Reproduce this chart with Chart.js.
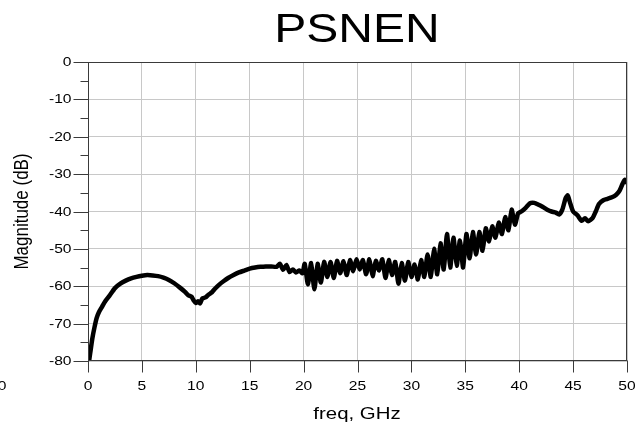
<!DOCTYPE html>
<html>
<head>
<meta charset="utf-8">
<script src="https://cdn.jsdelivr.net/npm/chart.js@4.4.1/dist/chart.umd.min.js"></script>
<style>
  html, body { margin: 0; padding: 0; background: #fff; }
  #wrap { width: 635px; height: 426px; position: relative; }
</style>
</head>
<body>
<div id="wrap"><canvas id="c"></canvas></div>
<script>
const chartTitle = 'PSNEN';
const xTitle = 'freq, GHz';
const yTitle = 'Magnitude (dB)';
const xTicks = [0, 5, 10, 15, 20, 25, 30, 35, 40, 45, 50];
const yTicks = [0, -10, -20, -30, -40, -50, -60, -70, -80];
const yMinorTicks = [-5, -15, -25, -35, -45, -55, -65, -75];

const freqGHz = [
  0.1, 0.2, 0.4, 0.6, 0.8, 1.0, 1.3, 1.6, 2.0, 2.5, 3.0, 3.5, 4.0, 4.5, 5.0, 5.5, 6.0, 6.5, 7.0, 7.5,
  8.0, 8.5, 9.0, 9.3, 9.6, 9.8, 10.0, 10.2, 10.4, 10.6, 10.9, 11.2, 11.5, 11.8, 12.2, 12.6, 13.0, 13.5, 14.0, 14.5,
  15.0, 15.5, 16.0, 16.5, 17.0, 17.5, 17.8, 18.1, 18.4, 18.7, 19.0, 19.3, 19.6, 19.9, 20.1, 20.4, 20.7, 21.0, 21.3, 21.6,
  21.9, 22.2, 22.5, 22.8, 23.1, 23.4, 23.7, 24.0, 24.3, 24.6, 24.9, 25.2, 25.5, 25.8, 26.1, 26.4, 26.7, 27.0, 27.3, 27.6,
  27.9, 28.2, 28.5, 28.8, 29.1, 29.4, 29.7, 30.0, 30.3, 30.6, 30.9, 31.2, 31.5, 31.8, 32.1, 32.4, 32.7, 33.0, 33.3, 33.6,
  33.9, 34.2, 34.5, 34.8, 35.1, 35.4, 35.7, 36.0, 36.3, 36.6, 36.9, 37.2, 37.5, 37.8, 38.1, 38.4, 38.7, 39.0, 39.3, 39.6,
  39.9, 40.2, 40.6, 41.0, 41.4, 41.8, 42.2, 42.6, 43.0, 43.4, 43.7, 44.0, 44.3, 44.5, 44.7, 45.0, 45.4, 45.8, 46.1, 46.4,
  46.8, 47.1, 47.4, 47.8, 48.2, 48.6, 49.0, 49.3, 49.6, 49.8, 50.0
];
const magDB = [
  -80.0, -78.0, -74.0, -71.0, -68.5, -67.0, -65.5, -64.0, -62.5, -60.5, -59.3, -58.5, -57.9, -57.5, -57.2, -57.0, -57.1, -57.3, -57.7, -58.3,
  -59.2, -60.3, -61.5, -62.4, -62.8, -63.8, -64.5, -64.0, -64.6, -63.3, -63.0, -62.2, -61.6, -60.6, -59.5, -58.6, -57.8, -57.0, -56.3, -55.8,
  -55.3, -55.0, -54.8, -54.7, -54.7, -54.8, -54.0, -55.6, -54.3, -56.2, -55.5, -56.3, -55.8, -56.5, -54.0, -59.5, -53.8, -60.8, -54.0, -59.0,
  -53.5, -57.5, -53.5, -57.8, -53.2, -56.5, -53.3, -57.0, -53.0, -56.0, -52.8, -55.5, -53.0, -56.8, -52.8, -57.3, -53.2, -55.8, -52.8, -57.8,
  -53.0, -57.0, -53.5, -59.3, -53.8, -58.5, -53.5, -57.5, -54.2, -58.2, -53.0, -57.5, -51.5, -57.5, -50.0, -56.8, -48.5, -55.5, -46.0, -55.0,
  -47.0, -54.5, -47.8, -55.0, -46.0, -52.5, -45.5, -51.5, -45.5, -50.5, -44.5, -48.0, -44.0, -47.0, -43.0, -46.0, -41.5, -45.0, -39.5, -43.5,
  -40.5, -40.0, -39.0, -37.8, -37.7, -38.2, -38.8, -39.5, -40.0, -40.3, -40.8, -39.5, -36.5, -35.7, -37.5, -40.0, -41.0, -42.5, -41.8, -42.6,
  -41.8, -40.0, -38.0, -37.0, -36.6, -36.2, -35.5, -34.5, -32.5, -31.5, -32.3
];

const SX = 1.2; // horizontal stretch of the reference's lettering
const FONT = '"Liberation Sans", Arial, Helvetica, sans-serif';

function drawText(ctx, str, x, y, size, align, baseline, rotate) {
  ctx.save();
  ctx.translate(x, y);
  ctx.scale(SX, 1);
  if (rotate) ctx.rotate(-Math.PI / 2);
  ctx.font = size + 'px ' + FONT;
  ctx.textAlign = align;
  ctx.textBaseline = baseline;
  ctx.fillStyle = '#000';
  ctx.fillText(str, 0, 0);
  ctx.restore();
}

const decor = {
  id: 'decor',
  afterDraw(chart) {
    const { ctx, chartArea: a, scales: { x, y } } = chart;
    ctx.save();
    const L = Math.round(a.left) + 0.5, R = Math.round(a.right) - 0.5;
    const T = Math.round(a.top) + 0.5, B = Math.round(a.bottom) - 0.5;
    ctx.strokeStyle = '#3a3a3a';
    ctx.lineWidth = 1;
    ctx.strokeRect(L, T, R - L, B - T);
    ctx.beginPath();
    yTicks.forEach(v => {
      const p = Math.round(y.getPixelForValue(v)) + 0.5;
      ctx.moveTo(L - 15, p); ctx.lineTo(L, p);
    });
    yMinorTicks.forEach(v => {
      const p = Math.round(y.getPixelForValue(v)) + 0.5;
      ctx.moveTo(L - 8, p); ctx.lineTo(L, p);
    });
    xTicks.forEach(v => {
      const p = Math.round(x.getPixelForValue(v)) + 0.5;
      ctx.moveTo(p, B); ctx.lineTo(p, B + 12);
    });
    ctx.stroke();
    ctx.restore();

    yTicks.forEach(v => drawText(ctx, String(v), L - 17, y.getPixelForValue(v) + 0.5, 13, 'right', 'middle'));
    xTicks.forEach(v => drawText(ctx, String(v), x.getPixelForValue(v), 390, 13, 'center', 'alphabetic'));
    drawText(ctx, '0', 2, 390, 13, 'center', 'alphabetic');
    drawText(ctx, chartTitle, 357, 42, 40, 'center', 'alphabetic');
    drawText(ctx, xTitle, 357, 419, 17, 'center', 'alphabetic');
    drawText(ctx, yTitle, 22, (a.top + a.bottom) / 2, 17, 'center', 'middle', true);
  }
};

new Chart(document.getElementById('c'), {
  type: 'line',
  data: {
    datasets: [{
      data: freqGHz.map((f, i) => ({ x: f, y: magDB[i] })),
      borderColor: '#000',
      borderWidth: 4.5,
      pointRadius: 0,
      tension: 0.2,
      fill: false,
      borderJoinStyle: 'round',
      borderCapStyle: 'round'
    }]
  },
  options: {
    responsive: true,
    maintainAspectRatio: false,
    animation: false,
    layout: { padding: { top: 62, right: 8, left: 0, bottom: 0 } },
    plugins: { legend: { display: false }, tooltip: { enabled: false }, title: { display: false } },
    scales: {
      x: {
        type: 'linear', min: 0, max: 50,
        ticks: { display: false, stepSize: 5 },
        grid: { color: '#c8c8c8', lineWidth: 1, drawTicks: false },
        border: { display: false },
        afterFit(s) { s.height = 65; }
      },
      y: {
        type: 'linear', min: -80, max: 0,
        ticks: { display: false, stepSize: 10 },
        grid: { color: '#c8c8c8', lineWidth: 1, drawTicks: false },
        border: { display: false },
        afterFit(s) { s.width = 88; }
      }
    }
  },
  plugins: [decor]
});
</script>
</body>
</html>
